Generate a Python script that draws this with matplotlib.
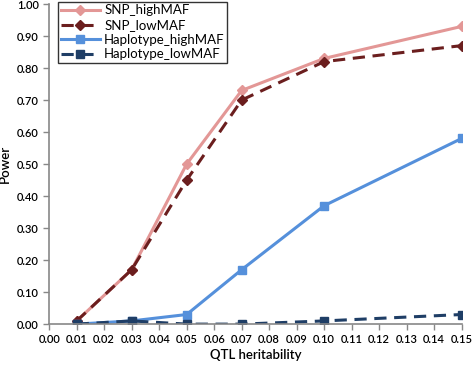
import matplotlib
matplotlib.use("Agg")
import matplotlib.pyplot as plt

plt.rcParams['font.family'] = ['Lato', 'DejaVu Sans']

heritability = [0.01, 0.03, 0.05, 0.07, 0.10, 0.15]
snp_high = [0.01, 0.17, 0.50, 0.73, 0.83, 0.93]
snp_low = [0.01, 0.17, 0.45, 0.70, 0.82, 0.87]
hap_high = [0.00, 0.01, 0.03, 0.17, 0.37, 0.58]
hap_low = [0.00, 0.01, 0.00, 0.00, 0.01, 0.03]

fig = plt.figure(figsize=(4.73, 3.65), dpi=100)
ax = fig.add_axes([0.104, 0.112, 0.872, 0.877])

ax.plot(heritability, snp_high, color='#E39796', lw=2.2, marker='D', ms=5, label='SNP_highMAF')
ax.plot(heritability, snp_low, color='#6B1E1E', lw=2.2, ls=(0, (4, 2.5)), marker='D', ms=5, label='SNP_lowMAF')
ax.plot(heritability, hap_high, color='#5590DB', lw=2.2, marker='s', ms=6, label='Haplotype_highMAF')
ax.plot(heritability, hap_low, color='#1F3E66', lw=2.2, ls=(0, (4, 2.5)), marker='s', ms=6, label='Haplotype_lowMAF')

ax.set_xlim(0, 0.15)
ax.set_ylim(0, 1.0)
ax.set_xticks([i / 100 for i in range(16)])
ax.set_xticklabels(['%.2f' % (i / 100) for i in range(16)], fontweight='semibold')
ax.set_yticks([i / 10 for i in range(11)])
ax.set_yticklabels(['%.2f' % (i / 10) for i in range(11)], fontweight='semibold')
ax.tick_params(labelsize=8, color='#888888', length=4, width=1)
ax.tick_params(axis='x', pad=3)
for s in ['top', 'right']:
    ax.spines[s].set_visible(False)
for s in ['left', 'bottom']:
    ax.spines[s].set_color('#888888')
    ax.spines[s].set_linewidth(1.2)

ax.set_xlabel('QTL heritability', fontsize=9.5, fontweight='semibold', labelpad=3)
ax.set_ylabel('Power', fontsize=9.5, fontweight='semibold', labelpad=4)

leg = ax.legend(loc='upper left', bbox_to_anchor=(0.015, 1.015), fontsize=9.5, frameon=True,
                fancybox=False, edgecolor='black', handlelength=3.0, borderpad=0.2,
                labelspacing=0.2, handletextpad=0.3, borderaxespad=0.2)
leg.get_frame().set_linewidth(1.0)

fig.savefig('out.png', dpi=100)
